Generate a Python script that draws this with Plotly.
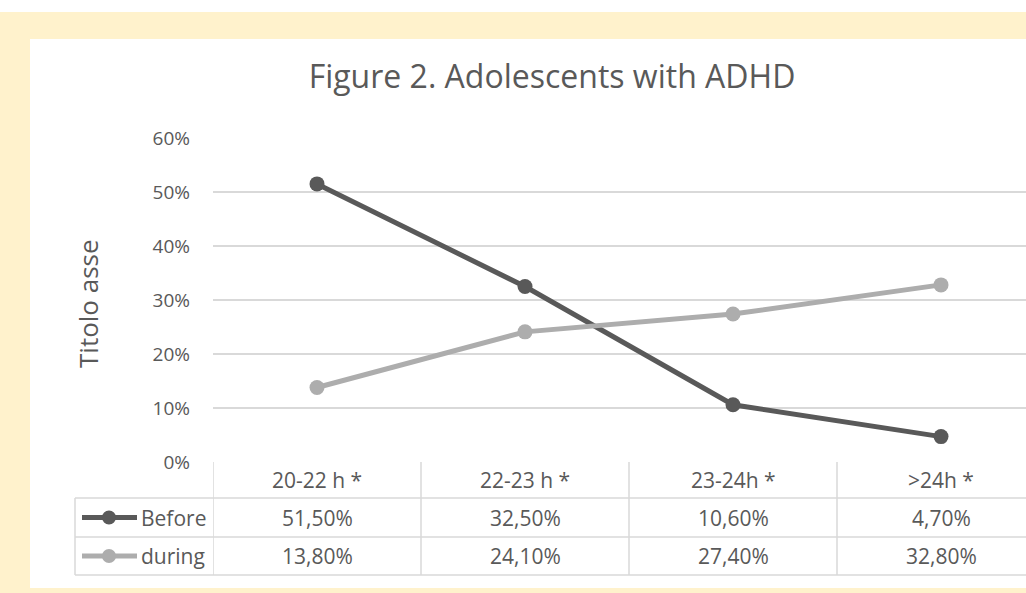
import plotly.graph_objects as go

# Data
categories = ["20-22 h *", "22-23 h *", "23-24h *", ">24h *"]
before = [51.5, 32.5, 10.6, 4.7]
during = [13.8, 24.1, 27.4, 32.8]
series_names = ["Before", "during"]
y_ticks = [0, 10, 20, 30, 40, 50, 60]
y_tick_labels = [f"{v}%" for v in y_ticks]

W, H = 1026, 593
FONT = "Open Sans"
TEXT = "#595959"
GRID = "#D9D9D9"
C_BEFORE = "#595959"
C_DURING = "#ADADAD"
YELLOW = "#FFF2CC"


def px_x(p):
    return p / W


def px_y(p):
    return (H - p) / H


# plot area in pixels
plot_left, plot_right = 213, W
y_top, y_zero = 138, 462
col_w = 208
row_lines = [498, 537, 575]
row_centers = [480, 517.5, 556]
table_left = 75

x_idx = list(range(len(categories)))

fig = go.Figure()
fig.add_trace(go.Scatter(
    x=x_idx, y=before, mode="lines+markers", name=series_names[0],
    line=dict(color=C_BEFORE, width=5), marker=dict(size=15, color=C_BEFORE),
    showlegend=False, hoverinfo="skip"))
fig.add_trace(go.Scatter(
    x=x_idx, y=during, mode="lines+markers", name=series_names[1],
    line=dict(color=C_DURING, width=5), marker=dict(size=15, color=C_DURING),
    showlegend=False, hoverinfo="skip"))

shapes = []
# white panels over the yellow background
shapes.append(dict(type="rect", xref="paper", yref="paper", x0=0, x1=1,
                   y0=px_y(12), y1=1, fillcolor="white", line_width=0, layer="below"))
shapes.append(dict(type="rect", xref="paper", yref="paper", x0=px_x(30), x1=1,
                   y0=px_y(588), y1=px_y(39), fillcolor="white", line_width=0, layer="below"))

# data table grid
for yl in row_lines:
    shapes.append(dict(type="line", xref="paper", yref="paper", x0=px_x(table_left), x1=1,
                       y0=px_y(yl), y1=px_y(yl), line=dict(color=GRID, width=1.5)))
shapes.append(dict(type="line", xref="paper", yref="paper", x0=px_x(table_left), x1=px_x(table_left),
                   y0=px_y(row_lines[0]), y1=px_y(row_lines[-1]), line=dict(color=GRID, width=1.5)))
for i in range(len(categories)):
    shapes.append(dict(type="line", xref="x", yref="paper", x0=i - 0.5, x1=i - 0.5,
                       y0=px_y(y_zero), y1=px_y(row_lines[-1]), line=dict(color=GRID, width=1.5)))

# legend keys inside the table
for color, yc in [(C_BEFORE, row_centers[1]), (C_DURING, row_centers[2])]:
    shapes.append(dict(type="line", xref="paper", yref="paper", x0=px_x(82), x1=px_x(137),
                       y0=px_y(yc), y1=px_y(yc), line=dict(color=color, width=5)))
    shapes.append(dict(type="circle", xref="paper", yref="paper", x0=px_x(102), x1=px_x(116),
                       y0=px_y(yc + 7), y1=px_y(yc - 7), fillcolor=color, line_width=0))

TABLE_FONT = dict(family=FONT, size=21, color=TEXT)
annotations = []
for i, cat in enumerate(categories):
    annotations.append(dict(x=i, xref="x", y=px_y(row_centers[0]), yref="paper", text=cat,
                            xanchor="center", yanchor="middle", showarrow=False, font=TABLE_FONT))
    for vals, yc in [(before, row_centers[1]), (during, row_centers[2])]:
        label = f"{vals[i]:.2f}".replace(".", ",") + "%"
        annotations.append(dict(x=i, xref="x", y=px_y(yc), yref="paper", text=label,
                                xanchor="center", yanchor="middle", showarrow=False, font=TABLE_FONT))
for name, yc in zip(series_names, row_centers[1:]):
    annotations.append(dict(x=px_x(139), xref="paper", y=px_y(yc), yref="paper", text=name,
                            xanchor="left", yanchor="middle", showarrow=False, font=TABLE_FONT))

annotations.append(dict(x=px_x(88), xref="paper", y=px_y(304), yref="paper", text="Titolo asse",
                        xanchor="center", yanchor="middle", textangle=-90, showarrow=False,
                        font=dict(family=FONT, size=26, color=TEXT)))

fig.update_layout(
    width=W, height=H,
    margin=dict(l=0, r=0, t=0, b=0, pad=0, autoexpand=False),
    paper_bgcolor=YELLOW,
    plot_bgcolor="rgba(0,0,0,0)",
    title=dict(text="Figure 2. Adolescents with ADHD", x=px_x(552), xanchor="center",
               xref="paper", y=px_y(77), yref="paper", yanchor="middle",
               font=dict(family=FONT, size=32, color=TEXT)),
    xaxis=dict(domain=[px_x(plot_left), 1], range=[-0.5, -0.5 + (plot_right - plot_left) / col_w],
               showgrid=False, showticklabels=False, zeroline=False, showline=False, fixedrange=True,
               automargin=False),
    yaxis=dict(domain=[px_y(y_zero), px_y(y_top)], range=[0, 60], tickvals=y_ticks,
               ticktext=y_tick_labels, showgrid=True, gridcolor=GRID, gridwidth=1.5, zeroline=False,
               showline=False, ticks="", ticklabelstandoff=22, automargin=False,
               tickfont=dict(family=FONT, size=19, color=TEXT)),
    shapes=shapes,
    annotations=annotations,
)

fig.write_html("out.html")
